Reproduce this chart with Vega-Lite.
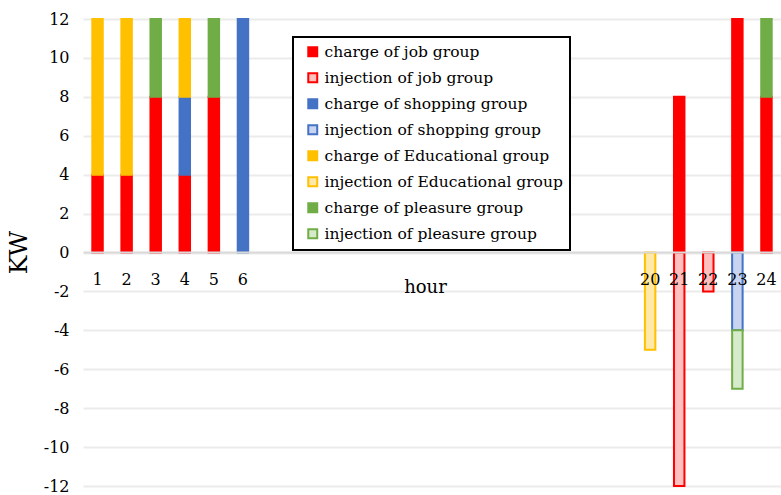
{
  "$schema": "https://vega.github.io/schema/vega-lite/v6.json",
  "width": 698,
  "height": 467,
  "autosize": {"type": "none"},
  "padding": {"left": 83, "top": 19, "right": 0, "bottom": 9},
  "background": "white",
  "config": {"view": {"stroke": null}, "font": "DejaVu Serif", "legend": {"strokeWidth": 2}},
  "data": {
    "values": [
      {"hour": 1, "series": "charge of job group", "kw": 4, "ord": 1},
      {"hour": 1, "series": "charge of Educational group", "kw": 8, "ord": 3},
      {"hour": 2, "series": "charge of job group", "kw": 4, "ord": 1},
      {"hour": 2, "series": "charge of Educational group", "kw": 8, "ord": 3},
      {"hour": 3, "series": "charge of job group", "kw": 8, "ord": 1},
      {"hour": 3, "series": "charge of pleasure group", "kw": 4, "ord": 4},
      {"hour": 4, "series": "charge of job group", "kw": 4, "ord": 1},
      {"hour": 4, "series": "charge of shopping group", "kw": 4, "ord": 2},
      {"hour": 4, "series": "charge of Educational group", "kw": 4, "ord": 3},
      {"hour": 5, "series": "charge of job group", "kw": 8, "ord": 1},
      {"hour": 5, "series": "charge of pleasure group", "kw": 4, "ord": 4},
      {"hour": 6, "series": "charge of shopping group", "kw": 12, "ord": 2},
      {"hour": 20, "series": "injection of Educational group", "kw": -5, "ord": 3},
      {"hour": 21, "series": "charge of job group", "kw": 8, "ord": 1},
      {"hour": 21, "series": "injection of job group", "kw": -12, "ord": 1},
      {"hour": 22, "series": "injection of job group", "kw": -2, "ord": 1},
      {"hour": 23, "series": "charge of job group", "kw": 12, "ord": 1},
      {"hour": 23, "series": "injection of shopping group", "kw": -4, "ord": 2},
      {"hour": 23, "series": "injection of pleasure group", "kw": -3, "ord": 4},
      {"hour": 24, "series": "charge of job group", "kw": 8, "ord": 1},
      {"hour": 24, "series": "charge of pleasure group", "kw": 4, "ord": 4}
    ]
  },
  "mark": {"type": "bar", "strokeWidth": 2},
  "encoding": {
    "x": {
      "field": "hour",
      "type": "ordinal",
      "scale": {
        "domain": [1,2,3,4,5,6,7,8,9,10,11,12,13,14,15,16,17,18,19,20,21,22,23,24],
        "paddingInner": 0.64,
        "paddingOuter": 0.32
      },
      "axis": {
        "title": "hour",
        "orient": "bottom",
        "offset": -234,
        "ticks": false,
        "labelPadding": 19,
        "labelAngle": 0,
        "labelFontSize": 16,
        "labelColor": "#000000",
        "labelExpr": "datum.value >= 7 && datum.value <= 19 ? '' : datum.label",
        "domainColor": "#D9D9D9",
        "domainWidth": 2,
        "titleFontSize": 18,
        "titleFontWeight": "normal",
        "titleColor": "#000000",
        "titleX": 342,
        "titleY": 40,
        "titleBaseline": "alphabetic",
        "zindex": 1
      }
    },
    "y": {
      "field": "kw",
      "type": "quantitative",
      "stack": "zero",
      "scale": {"domain": [-12, 12], "nice": false},
      "axis": {
        "title": "KW",
        "values": [-12,-10,-8,-6,-4,-2,0,2,4,6,8,10,12],
        "ticks": false,
        "domain": false,
        "labelPadding": 14,
        "labelFontSize": 16,
        "labelColor": "#000000",
        "labelExpr": "'' + datum.value",
        "gridColor": "#EBEBEB",
        "gridWidth": 2,
        "titleFontSize": 25,
        "titleFontWeight": "normal",
        "titleColor": "#000000",
        "titleX": -65,
        "titleY": 233,
        "titleAngle": -90,
        "titleAlign": "center",
        "titleBaseline": "middle"
      }
    },
    "fill": {
      "field": "series",
      "type": "nominal",
      "scale": {
        "domain": ["charge of job group", "injection of job group", "charge of shopping group", "injection of shopping group", "charge of Educational group", "injection of Educational group", "charge of pleasure group", "injection of pleasure group"],
        "range": ["#FF0000", "#FFC0C0", "#4472C4", "#C8D4F0", "#FFC000", "#FFE8A8", "#70AD47", "#D6EBCB"]
      },
      "legend": {
        "title": null,
        "orient": "none",
        "legendX": 210,
        "legendY": 18,
        "symbolType": "square",
        "symbolSize": 80,
        "symbolStrokeWidth": 2,
        "labelFontSize": 15.5,
        "labelColor": "#000000",
        "labelLimit": 400,
        "rowPadding": 8,
        "padding": 7,
        "strokeColor": "#000000",
        "fillColor": "white",
        "symbolOffset": 5
      }
    },
    "stroke": {
      "field": "series",
      "type": "nominal",
      "scale": {
        "domain": ["charge of job group", "injection of job group", "charge of shopping group", "injection of shopping group", "charge of Educational group", "injection of Educational group", "charge of pleasure group", "injection of pleasure group"],
        "range": ["#FF0000", "#FF0000", "#4472C4", "#4472C4", "#FFC000", "#FFC000", "#70AD47", "#70AD47"]
      }
    },
    "order": {"field": "ord", "type": "quantitative"}
  }
}
